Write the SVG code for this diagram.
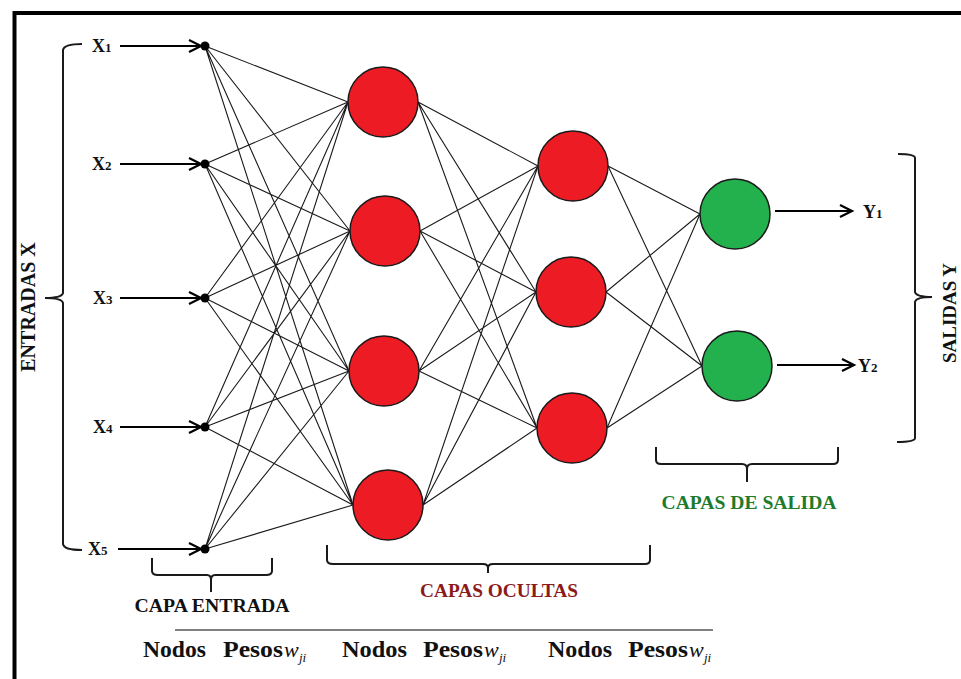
<svg xmlns="http://www.w3.org/2000/svg" width="961" height="679" viewBox="0 0 961 679">
<defs>
<marker id="arr" markerUnits="userSpaceOnUse" markerWidth="16" markerHeight="16" refX="13" refY="7" orient="auto" overflow="visible">
<path d="M1,1 L13,7 L1,13" fill="none" stroke="#000" stroke-width="2.2"/>
</marker>
</defs>
<style>
.lbl{font-family:"Liberation Serif","Times New Roman",serif;font-weight:bold;fill:#111}
.sub{font-size:13px}
.edge{stroke:#1a1a1a;stroke-width:1.1;fill:none}
.hid{fill:#ED1C24;stroke:#1a1a1a;stroke-width:1.5}
.out{fill:#22B14C;stroke:#1a1a1a;stroke-width:1.5}
.inp{fill:#000}
.in-arrow{stroke:#000;stroke-width:2;fill:none;marker-end:url(#arr)}
.brace{stroke:#1a1a1a;stroke-width:2;fill:none}
.bot{font-family:"Liberation Serif","Times New Roman",serif;font-weight:bold;font-size:23px;fill:#111}
.w{font-family:"Liberation Serif","Times New Roman",serif;font-style:italic;font-size:22px;fill:#111}
.ws{font-family:"Liberation Serif","Times New Roman",serif;font-style:italic;font-size:13px;fill:#111}
</style>
<rect width="961" height="679" fill="#fff"/>
<path d="M14.5,679 V13 H961" fill="none" stroke="#000" stroke-width="4"/>

<g id="connectors">
<path class="edge" d="M205,46 L348,102 M205,46 L350,231 M205,46 L349,371 M205,46 L353,505
M205,164 L348,102 M205,164 L350,231 M205,164 L349,371 M205,164 L353,505
M205,298 L348,102 M205,298 L350,231 M205,298 L349,371 M205,298 L353,505
M205,427 L348,102 M205,427 L350,231 M205,427 L349,371 M205,427 L353,505
M205,549 L348,102 M205,549 L350,231 M205,549 L349,371 M205,549 L353,505"/>
<path class="edge" d="M418,102 L538,166 M418,102 L536,292 M418,102 L537,428
M420,231 L538,166 M420,231 L536,292 M420,231 L537,428
M419,371 L538,166 M419,371 L536,292 M419,371 L537,428
M423,505 L538,166 M423,505 L536,292 M423,505 L537,428"/>
<path class="edge" d="M608,166 L700,214 M608,166 L702,366
M606,292 L700,214 M606,292 L702,366
M607,428 L700,214 M607,428 L702,366"/>
<line class="in-arrow" x1="120" y1="46" x2="201" y2="46"/>
<line class="in-arrow" x1="120" y1="164" x2="201" y2="164"/>
<line class="in-arrow" x1="120" y1="298" x2="201" y2="298"/>
<line class="in-arrow" x1="120" y1="427" x2="201" y2="427"/>
<line class="in-arrow" x1="118" y1="549" x2="201" y2="549"/>
<line class="in-arrow" x1="775" y1="211" x2="852" y2="211"/>
<line class="in-arrow" x1="777" y1="365" x2="854" y2="365"/>
</g>

<g id="input-nodes">
<g id="x1"><circle class="inp" cx="205" cy="46" r="4.5"/><text class="lbl" x="92" y="52" font-size="18">X<tspan class="sub">1</tspan></text></g>
<g id="x2"><circle class="inp" cx="205" cy="164" r="4.5"/><text class="lbl" x="92" y="170" font-size="18">X<tspan class="sub">2</tspan></text></g>
<g id="x3"><circle class="inp" cx="205" cy="298" r="4.5"/><text class="lbl" x="93" y="304" font-size="18">X<tspan class="sub">3</tspan></text></g>
<g id="x4"><circle class="inp" cx="205" cy="427" r="4.5"/><text class="lbl" x="93" y="433" font-size="18">X<tspan class="sub">4</tspan></text></g>
<g id="x5"><circle class="inp" cx="205" cy="549" r="4.5"/><text class="lbl" x="88" y="555" font-size="18">X<tspan class="sub">5</tspan></text></g>
</g>

<g id="hidden1">
<circle id="h1a" class="hid" cx="383" cy="102" r="35"/>
<circle id="h1b" class="hid" cx="385" cy="231" r="35"/>
<circle id="h1c" class="hid" cx="384" cy="371" r="35"/>
<circle id="h1d" class="hid" cx="388" cy="505" r="35"/>
</g>
<g id="hidden2">
<circle id="h2a" class="hid" cx="573" cy="166" r="35"/>
<circle id="h2b" class="hid" cx="571" cy="292" r="35"/>
<circle id="h2c" class="hid" cx="572" cy="428" r="35"/>
</g>
<g id="output">
<g id="y1"><circle class="out" cx="735" cy="214" r="35"/><text class="lbl" x="863" y="218" font-size="18">Y<tspan class="sub">1</tspan></text></g>
<g id="y2"><circle class="out" cx="737" cy="366" r="35"/><text class="lbl" x="858" y="372" font-size="18">Y<tspan class="sub">2</tspan></text></g>
</g>

<g id="braces">
<path class="brace" d="M82,44 Q64,44 63,50 V293 Q62,298 45,298 Q62,298 63,303 V544 Q64,550 82,550"/>
<path class="brace" d="M898,154 Q915,154 915,158 V292 Q916,297 932,297 Q916,297 915,302 V438 Q915,442 897,442"/>
<path class="brace" d="M152,558 V571 Q152,575 158,575 H207 Q211,575 211,580 V592 M211,580 Q211,575 215,575 H266 Q272,575 272,571 V558"/>
<path class="brace" d="M327,545 V560 Q327,564 333,564 H483 Q488,564 488,568 V573 M488,568 Q488,564 493,564 H645 Q650,564 650,560 V545"/>
<path class="brace" d="M656,447 V460 Q656,464 661,464 H742 Q747,464 747,469 V482 M747,469 Q747,464 752,464 H833 Q838,464 838,460 V447"/>
</g>

<g id="labels">
<text class="lbl" font-size="20" transform="translate(35,307) rotate(-90)" text-anchor="middle">ENTRADAS X</text>
<text class="lbl" font-size="19" transform="translate(956,313) rotate(-90)" text-anchor="middle">SALIDAS Y</text>
<text class="lbl" font-size="19" x="212" y="612" text-anchor="middle" textLength="155" lengthAdjust="spacingAndGlyphs">CAPA ENTRADA</text>
<text class="lbl" font-size="18.5" x="499" y="597" text-anchor="middle" textLength="158" lengthAdjust="spacingAndGlyphs" style="fill:#8B1A1A">CAPAS OCULTAS</text>
<text class="lbl" font-size="19" x="749" y="509" text-anchor="middle" textLength="175" lengthAdjust="spacingAndGlyphs" style="fill:#1E7B2E">CAPAS DE SALIDA</text>
</g>

<line x1="175" y1="630" x2="713" y2="630" stroke="#555" stroke-width="1.5"/>

<g id="bottom-row">
<text class="bot" x="143" y="657" textLength="63" lengthAdjust="spacingAndGlyphs">Nodos</text>
<text class="bot" x="223" y="657" textLength="60" lengthAdjust="spacingAndGlyphs">Pesos</text>
<text class="w" x="284" y="657">w</text><text class="ws" x="299" y="662">ji</text>
<text class="bot" x="342" y="657" textLength="65" lengthAdjust="spacingAndGlyphs">Nodos</text>
<text class="bot" x="423" y="657" textLength="60" lengthAdjust="spacingAndGlyphs">Pesos</text>
<text class="w" x="484" y="657">w</text><text class="ws" x="499" y="662">ji</text>
<text class="bot" x="548" y="657" textLength="64" lengthAdjust="spacingAndGlyphs">Nodos</text>
<text class="bot" x="628" y="657" textLength="60" lengthAdjust="spacingAndGlyphs">Pesos</text>
<text class="w" x="689" y="657">w</text><text class="ws" x="704" y="662">ji</text>
</g>
</svg>
